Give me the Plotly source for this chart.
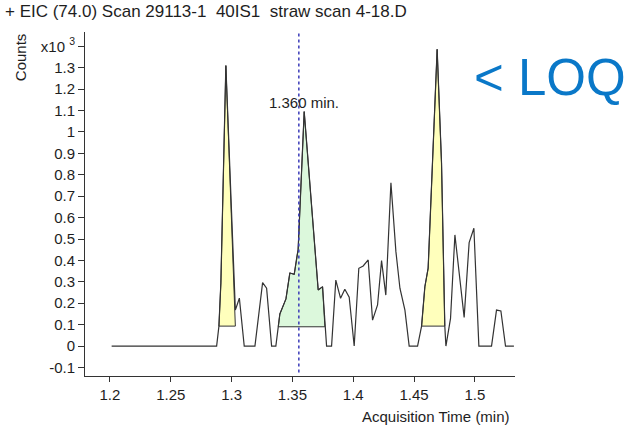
import numpy as np
import plotly.graph_objects as go

# ---- data (counts in x10^3) ----
time = [1.2014, 1.2877, 1.2896, 1.2912, 1.2953, 1.2990, 1.3031, 1.3050, 1.3064, 1.3104,
        1.3192, 1.3255, 1.3288, 1.3329, 1.3364, 1.3397, 1.3447, 1.3479, 1.3515, 1.3539,
        1.3547, 1.3597, 1.3693, 1.3712, 1.3748, 1.3767, 1.3781, 1.3822, 1.3857, 1.3896,
        1.3931, 1.3967, 1.4008, 1.4046, 1.4082, 1.4123, 1.4159, 1.4200, 1.4233, 1.4268,
        1.4310, 1.4351, 1.4384, 1.4425, 1.4460, 1.4529, 1.4562, 1.4589, 1.4616, 1.4690,
        1.4726, 1.4753, 1.4762, 1.4800, 1.4836, 1.4912, 1.4953, 1.4992, 1.5033, 1.5137,
        1.5178, 1.5214, 1.5252, 1.5321]
counts = [0.0, 0.0, 0.093, 0.294, 1.31, 0.762, 0.168, 0.200, 0.224, 0.0,
          0.0, 0.296, 0.270, 0.0, 0.0, 0.150, 0.220, 0.341, 0.335, 0.425,
          0.449, 1.095, 0.388, 0.262, 0.277, 0.090, 0.0, 0.0, 0.308, 0.223,
          0.265, 0.228, 0.0, 0.363, 0.374, 0.402, 0.121, 0.192, 0.399, 0.238,
          0.763, 0.441, 0.270, 0.168, 0.0, 0.0, 0.093, 0.277, 0.364, 1.386,
          0.855, 0.093, 0.0, 0.129, 0.519, 0.134, 0.483, 0.550, 0.0, 0.0,
          0.168, 0.164, 0.0, 0.0]

peak_start = [1.2896, 1.3384, 1.4562]
peak_end = [1.3031, 1.3767, 1.4753]
peak_base = [0.093, 0.090, 0.093]
peak_colors = ["rgb(255,255,188)", "rgb(220,248,220)", "rgb(255,255,188)"]

marker_time = 1.3553
peak_label = "1.360 min."
peak_label_time = 1.3597
peak_label_y = 1.14

xtick_vals = [1.2, 1.25, 1.3, 1.35, 1.4, 1.45, 1.5]
xtick_text = ["1.2", "1.25", "1.3", "1.35", "1.4", "1.45", "1.5"]
ytick_vals = [-0.1, 0.0, 0.1, 0.2, 0.3, 0.4, 0.5, 0.6, 0.7, 0.8, 0.9, 1.0, 1.1, 1.2, 1.3, 1.4]
ytick_text = ["-0.1", "0", "0.1", "0.2", "0.3", "0.4", "0.5", "0.6", "0.7", "0.8", "0.9",
              "1", "1.1", "1.2", "1.3", "x10 <sup>3</sup>"]

title_text = "+ EIC (74.0) Scan 29113-1  40IS1  straw scan 4-18.D"
ylabel = "Counts"
xlabel = "Acquisition Time (min)"
loq_text = "< LOQ"

FONT = "Liberation Sans, Arial, sans-serif"
TXT = "#1e1e1e"

t = np.array(time)
c = np.array(counts)

fig = go.Figure()

# integrated peak fills
for s, e, b, col in zip(peak_start, peak_end, peak_base, peak_colors):
    inside = (t > s) & (t < e)
    px_ = [s] + list(t[inside]) + [e, e, s]
    py_ = [float(np.interp(s, t, c))] + list(c[inside]) + [float(np.interp(e, t, c)), b, b]
    fig.add_trace(go.Scatter(x=px_, y=py_, mode="lines", fill="toself", fillcolor=col,
                             line=dict(color="#333333", width=1), hoverinfo="skip",
                             showlegend=False))

fig.add_trace(go.Scatter(x=time, y=counts, mode="lines",
                         line=dict(color="#333333", width=1.2), showlegend=False))

fig.add_shape(type="line", x0=marker_time, x1=marker_time, xref="x", yref="paper",
              y0=0.01, y1=1.0, line=dict(color="#3a3ab8", width=1.5, dash="dot"))

fig.add_annotation(x=peak_label_time, y=peak_label_y, xref="x", yref="y", text=peak_label,
                   showarrow=False, font=dict(family=FONT, size=15, color=TXT))

fig.add_annotation(x=-0.1907, y=1.061, xref="paper", yref="paper", text=title_text,
                   showarrow=False, xanchor="left", yanchor="middle",
                   font=dict(family=FONT, size=17, color=TXT))
fig.add_annotation(x=-0.151, y=0.927, xref="paper", yref="paper", text=ylabel,
                   textangle=-90, showarrow=False, xanchor="center", yanchor="middle",
                   font=dict(family=FONT, size=15, color=TXT))
fig.add_annotation(x=0.993, y=-0.119, xref="paper", yref="paper", text=xlabel,
                   showarrow=False, xanchor="right", yanchor="middle",
                   font=dict(family=FONT, size=15, color=TXT))
fig.add_annotation(x=1.081, y=0.869, xref="paper", yref="paper", text=loq_text,
                   showarrow=False, xanchor="center", yanchor="middle",
                   font=dict(family=FONT, size=51, color="#0a78c8"))

fig.update_layout(
    width=632, height=427,
    margin=dict(l=85, r=117, t=32, b=51),
    paper_bgcolor="white", plot_bgcolor="white",
    font=dict(family=FONT, size=15, color=TXT),
    xaxis=dict(range=[1.1795, 1.533], tickvals=xtick_vals, ticktext=xtick_text,
               showline=True, linecolor="#333333", linewidth=1, ticks="outside",
               ticklen=5, tickcolor="#333333", showgrid=False, zeroline=False,
               tickfont=dict(family=FONT, size=15, color=TXT)),
    yaxis=dict(range=[-0.14, 1.467], tickvals=ytick_vals, ticktext=ytick_text,
               showline=True, linecolor="#333333", linewidth=1, ticks="outside",
               ticklen=6, tickcolor="#333333", showgrid=False, zeroline=False,
               tickfont=dict(family=FONT, size=15, color=TXT)),
)

fig.write_html("out.html")
